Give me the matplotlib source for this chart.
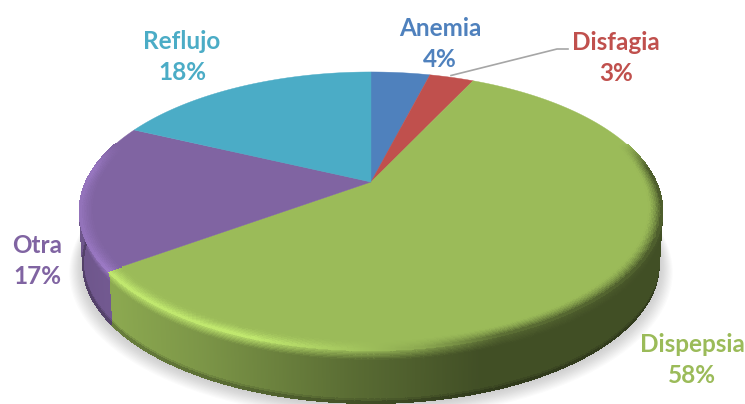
import numpy as np
import matplotlib
matplotlib.use('Agg')
import matplotlib.pyplot as plt
from matplotlib.collections import PolyCollection

plt.rcParams['font.family'] = ['Lato', 'DejaVu Sans']

etiquetas = ['Anemia', 'Disfagia', 'Dispepsia', 'Otra', 'Reflujo']
valores = [4, 3, 58, 17, 18]
cores = ['#4f81bd', '#c0504d', '#9bbb59', '#8064a2', '#4bacc6']
pos_texto = [(440, 44), (616, 58), (692, 360), (37, 261), (182, 57)]

# geometria do disco em pixels
CX, CY = 371, 182
RX, RY = 285, 133
K = 0.2087
PROF = 53


def projeta(theta, r=1.0, d=0.0):
    x = r * np.sin(theta)
    y = r * np.cos(theta)
    w = 1 + K * y
    X = CX + RX * x / w * (1 - 0.012 * d)
    Y = CY - RY * y / w + PROF * d
    return X, Y


def rgb(cor):
    return np.array(matplotlib.colors.to_rgb(cor))


def fator_lado(x):
    return np.interp(x, [80, 113, 200, 350, 480, 662], [0.86, 0.90, 0.80, 0.58, 0.42, 0.42])


def fator_crista(x):
    return np.interp(x, [80, 113, 250, 350, 420, 500, 662], [1.16, 1.26, 1.26, 1.06, 0.9, 0.55, 0.45])


def mistura(a, b, t):
    return a * (1 - t) + b * t


fig, ax = plt.subplots(figsize=(7.45, 4.04), dpi=100)
fig.subplots_adjust(0, 0, 1, 1)
ax.set_xlim(0, 745)
ax.set_ylim(404, 0)
ax.axis('off')

# angulos das fatias, sentido horario a partir do topo
fracoes = np.array(valores) / sum(valores)
limites = np.concatenate([[0], np.cumsum(fracoes)]) * 2 * np.pi

# sombra
todos = np.linspace(0, 2 * np.pi, 300)
for i in range(14):
    X, Y = projeta(todos, 1.0 + i * 0.0035, 1.0)
    ax.fill(X, Y + 1 + i * 0.35, color='#707070', alpha=0.028, lw=0, zorder=1)

polis, cols_poli = [], []
polis_topo, cols_topo = [], []

for i in range(len(valores)):
    ini, fim = limites[i], limites[i + 1]
    base = rgb(cores[i])
    n = max(int((fim - ini) * 300), 3)
    th = np.linspace(ini, fim, n + 1)

    # lateral do disco
    niveis = np.r_[np.linspace(0, 0.2, 9), 0.93, 0.97, 1.0]
    for a, b in zip(th[:-1], th[1:]):
        m = (a + b) / 2
        if np.cos(m) > 0.3:
            continue
        xm, _ = projeta(m)
        forca = np.clip((0.3 - np.cos(m)) / 0.2, 0, 1)
        lado = base * fator_lado(xm)
        crista = mistura(lado, np.clip(base * fator_crista(xm), 0, 1), forca)
        for d0, d1 in zip(niveis[:-1], niveis[1:]):
            x0, y0 = projeta(np.array([a, b]), 1.0, d0)
            x1, y1 = projeta(np.array([b, a]), 1.0, d1)
            polis.append(np.column_stack([np.r_[x0, x1], np.r_[y0, y1]]))
            dm = (d0 + d1) / 2
            if dm < 0.2:
                c = mistura(crista, lado, dm / 0.2)
            elif dm < 0.93:
                c = lado
            elif dm < 0.97:
                c = lado * 0.9
            else:
                c = lado * 0.75
            cols_poli.append(np.clip(c, 0, 1))

    # face de cima
    X, Y = projeta(th)
    ax.fill(np.r_[CX, X], np.r_[CY, Y], color=cores[i], lw=0.3, zorder=4)

    # chanfro na borda da face
    raios = np.linspace(0.955, 1.0, 9)
    for a, b in zip(th[:-1], th[1:]):
        m = (a + b) / 2
        if np.cos(m) > 0.3:
            continue
        xm, _ = projeta(m)
        forca = np.clip((0.3 - np.cos(m)) / 0.2, 0, 1)
        crista = np.clip(base * fator_crista(xm), 0, 1)
        for r0, r1 in zip(raios[:-1], raios[1:]):
            x0, y0 = projeta(np.array([a, b]), r0)
            x1, y1 = projeta(np.array([b, a]), r1)
            polis_topo.append(np.column_stack([np.r_[x0, x1], np.r_[y0, y1]]))
            t = ((r0 + r1) / 2 - 0.955) / 0.045
            cols_topo.append(mistura(base, crista, forca * t ** 1.5))

# sem antialias nos quadradinhos, senao aparecem listras
ax.add_collection(PolyCollection(polis, facecolors=cols_poli, edgecolors=cols_poli, linewidths=0.6,
                                 antialiaseds=False, zorder=2))
ax.add_collection(PolyCollection(polis_topo, facecolors=cols_topo, edgecolors=cols_topo, linewidths=0.6,
                                 antialiaseds=False, zorder=5))

# linha de chamada da Disfagia
ax.plot([451, 557, 568], [75.5, 49, 49], color='#a6a6a6', lw=1.2, zorder=6)

for nome, valor, cor, (x, y) in zip(etiquetas, valores, cores, pos_texto):
    ax.text(x, y, f'{nome}\n{valor}%', color=cor, fontsize=17.5, fontweight='bold',
            ha='center', va='center', linespacing=1.42, zorder=7)

plt.savefig('out.png', dpi=100)
plt.close()
